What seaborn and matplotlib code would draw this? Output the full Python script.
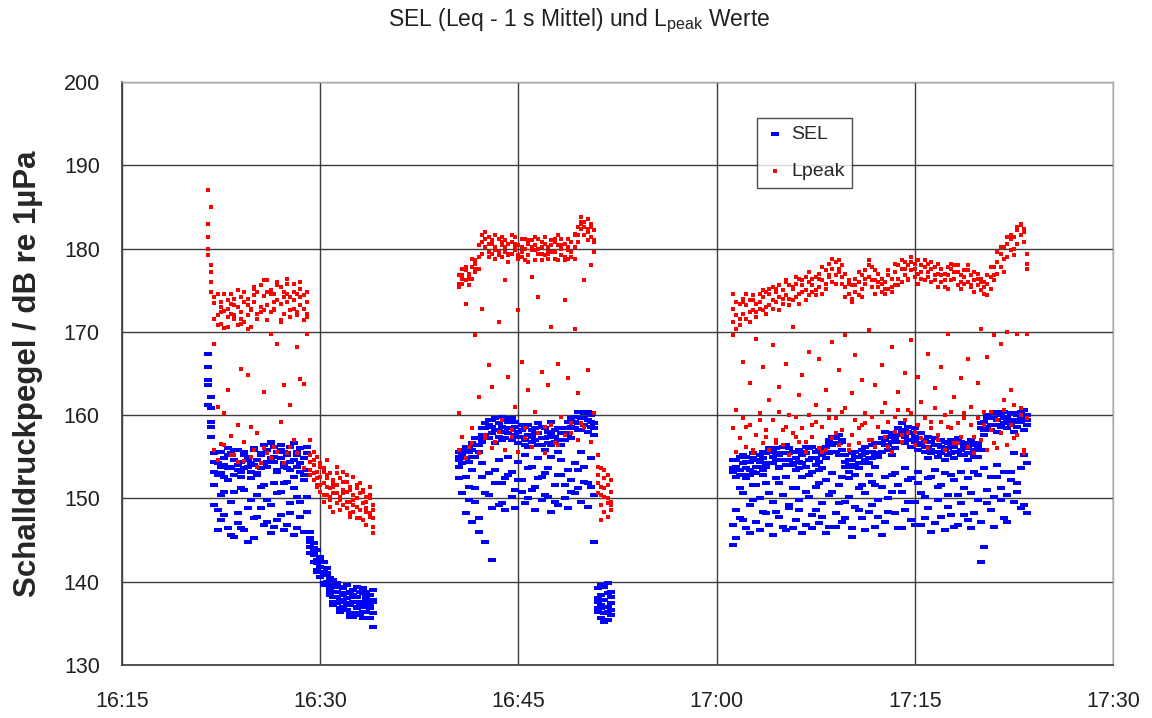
import numpy as np
import pandas as pd
import matplotlib
matplotlib.use("Agg")
import matplotlib.pyplot as plt
import seaborn as sns

# ---------------- data ----------------
# time = minutes after 16:15, samples every 15 s inside each recording segment
x_ticks = [0, 15, 30, 45, 60, 75]
x_tick_labels = ["16:15", "16:30", "16:45", "17:00", "17:15", "17:30"]
y_ticks = [130, 140, 150, 160, 170, 180, 190, 200]
seg_start = [6.5, 25.5, 46.25]   # 16:21:30, 16:40:30, 17:01:15
sample_step = 0.25

# ---- segment 1 ----
seg1_lp_a = [187, 185, 173.5, 172, 171, 172.5, 173.8, 172.2, 171.5, 173, 172.4, 171.2, 174, 172.8, 173.6, 172.2,
             175.6, 174.3, 173.2, 175, 174.6, 176, 173.4, 174.8, 175.8, 172.6, 173.8, 174.6, 175.2, 172.8, 173.6,
             155.2, 154, 153.2, 152.6, 151.8, 152.8, 151.2, 150.6, 151.6, 150.2, 149.2, 150.8, 149.6, 150.4, 149,
             150.6, 149.4, 148.8, 150, 149.2]
seg1_lp_b = [183, 178, 171.5, 174.5, 173, 170.5, 171.8, 174.6, 173.2, 170.8, 174.2, 173.6, 172, 170.6, 175.2, 174.8,
             173, 172.6, 176.2, 172.4, 172.8, 173.8, 175.4, 172.2, 173.6, 174.2, 175.8, 172, 173.2, 174.4, 171.8,
             153.4, 152.2, 155, 154.2, 153.6, 150.4, 153, 152.2, 149.4, 152.4, 151, 148.8, 151.4, 148.4, 151.2,
             148.6, 150.8, 150.2, 148.2, 147.6]
seg1_lp_c = [180, 176, 168.6, 161, 156.5, 160.2, 163, 157.5, 155.2, 158.8, 165.6, 154.5, 164.8, 158.6, 155.8, 157.8,
             154.2, 162.8, 155.5, 169.8, 156.2, 168.6, 159.2, 163.6, 155.4, 161.2, 157, 168.2, 164.3, 163.7, 169.8,
             157, 155.6, 151.4, 150.8, 149.6, 154.6, 149, 148.4, 153.8, 148.6, 153.2, 152, 147.8, 152.6, 147.6,
             151.8, 147.4, 146.8, 151.4, 145.8]
seg1_lp_d = [181.4, 177.2, 155.8, 154.6, 173.6, 156.4, 172.8, 155.2, 174, 154.4, 171.6, 156.8, 173.2, 155, 174.4,
             153.8, 172.4, 156, 174.8, 154.8, 173.6, 155.6, 171.4, 154.2, 174.6, 156.2, 172.8, 155.4, 174.2, 153.6,
             172.2, 154.4, 153, 152.4, 151.6, 153.2, 151.4, 150.2, 151.8, 150.6, 149.8, 152, 149.6, 151, 149.2, 150,
             148.6, 151, 149.6, 147.8, 148.6]
seg1_lp_e = [179.2, 174.8, 174.2, 170.8, 172.4, 174.6, 170.6, 173.4, 172, 175, 171, 174.8, 170.4, 172.6, 175.4,
             171.6, 173, 176.2, 171.4, 174.6, 172.6, 175.6, 171.2, 174.2, 176.4, 171.8, 174.8, 172.4, 176, 171.4,
             174.8, 152.8, 154.6, 151.6, 153.8, 150.4, 152.4, 149.8, 151.4, 153, 148.6, 150.6, 152.8, 148.2, 149.8,
             151.6, 147.6, 149.4, 148.4, 150.4, 146.6]
seg1_sel_a = [167.4, 162.2, 155.4, 154.2, 155.6, 154, 155.2, 153.8, 154.6, 155.8, 154.4, 153.6, 155, 154.2, 156, 154.6,
              155.4, 156.4, 155.8, 156.6, 154.4, 155.6, 154.8, 153.8, 155.2, 156.2, 154.6, 155.6, 156, 154.8, 155.4,
              145.2, 144.6, 143.8, 143, 142.4, 141.6, 140.4, 139.6, 138.8, 139.4, 138.4, 138, 138.8, 137.6, 138.2,
              137.4, 138.6, 137.8, 138.4, 137.6]
seg1_sel_b = [165.8, 160.8, 153.2, 152.8, 153.8, 152.6, 153.6, 155.4, 152.8, 153.4, 152.6, 155.2, 153.8, 152.4, 154,
              152.8, 153.6, 154.2, 153.8, 154.8, 156.2, 153.4, 156.4, 155.6, 153.6, 154.4, 152.6, 153.8, 154.2, 152.8,
              153.4, 144.2, 143.2, 142.6, 141.8, 140.8, 139.8, 138.8, 138.2, 137.4, 137.8, 137, 136.6, 137.2, 139,
              136.8, 138.8, 137, 136.4, 137.2, 139]
seg1_sel_c = [163.6, 157.4, 149.2, 148.6, 147.4, 150.8, 146.4, 149.6, 145.4, 148.2, 151.2, 146.2, 144.8, 149.8, 147.6,
              150.4, 148.8, 151.6, 147.2, 149.2, 146.6, 150.6, 148, 151.8, 146.8, 149.4, 145.6, 150.2, 147.8, 146,
              150.2, 143.4, 142.4, 141.4, 140.6, 139.6, 140.8, 139.4, 140.2, 139.8, 136.6, 139.2, 139.6, 136.2, 135.8,
              139.4, 136, 139.2, 138.8, 135.6, 134.6]
seg1_sel_d = [161.2, 159.2, 151.6, 146.2, 150.4, 148, 152.2, 145.6, 150.8, 147, 146.4, 151, 148.8, 152.4, 145.2,
              147.8, 151.4, 146.8, 149.8, 145.8, 151.8, 147.4, 150.8, 146.2, 152, 148.2, 151.2, 146.4, 149.6, 152.2,
              148.4, 144.8, 143.6, 142.2, 142.4, 141.2, 140, 138.4, 137.6, 138.2, 136.8, 138.6, 137.4, 136.2, 138.2,
              137, 137.6, 136.4, 138.2, 137, 136.2]
seg1_sel_e = [164.2, 158.6, 154.4, 155.6, 153, 154.8, 156, 153.6, 155.8, 154, 153.2, 155.6, 154.6, 153.2, 155.8,
              153, 155.2, 156.4, 154.4, 156.8, 155, 153.2, 155.8, 154.2, 155.4, 153.4, 156.6, 155.2, 153.2, 154.8,
              156.2, 146, 144, 141.2, 142.8, 139.8, 141, 139.2, 137.2, 139.4, 136.4, 137.6, 138.6, 135.8, 138.4,
              136.2, 137.2, 135.6, 137.4, 136.8, 137.8]

# ---- segment 2 ----
seg2_lp_a = [176.8, 177.6, 176.2, 175.6, 177.8, 178.6, 179, 181.6, 182, 180.6, 179.4, 180.2, 179.6, 180.4, 181, 179.2,
             180.8, 179.8, 180.4, 179.6, 178.6, 180.6, 179.8, 180.4, 179.4, 180.8, 179.2, 180.2, 181, 179.6, 180.4,
             179.2, 180.6, 181.2, 179.6, 180.2, 182.6, 183.8, 183.2, 182.4, 181.4, 182.2, 152.8, 151.4, 150.2,
             149.4, 150.8]
seg2_lp_b = [175.4, 175.8, 177.4, 177, 176.4, 177.2, 177.6, 179.4, 180.2, 179, 181, 178.8, 181.2, 179, 179.6, 180.6,
             179.4, 181.4, 178.8, 181.2, 180, 179.2, 181, 178.6, 181.2, 179.4, 180.6, 178.8, 179.6, 180.8, 178.6,
             181.2, 179, 179.8, 180.8, 181.6, 180.8, 182.4, 181.6, 183.6, 183, 180.8, 150.6, 149.2, 152.4, 151.6,
             148.6]
seg2_lp_c = [160.2, 157.4, 173.4, 156.2, 158.4, 169.6, 162.2, 172.8, 157.6, 166, 163.4, 156.8, 171.2, 159.4, 176.2,
             164.6, 158.2, 161, 172.6, 166.4, 157.2, 163, 176.6, 160.4, 174.2, 165.2, 158.6, 163.6, 170.6, 156.6,
             166.2, 159.8, 173.8, 164.4, 157.8, 170.4, 162.6, 159, 176.2, 165.4, 178, 160.2, 155.2, 153.6, 148.4,
             147.8, 152.2]
seg2_lp_d = [155.8, 176.4, 154.8, 176.8, 156.6, 178.2, 155.4, 180.8, 157.2, 181.4, 156, 179.8, 158, 180.8, 155.8,
             179.4, 157.4, 180.2, 155.6, 179, 158.4, 181, 156.2, 179.8, 157.8, 180.2, 155.4, 179.6, 158.8, 181.2,
             156.4, 180, 157.6, 178.8, 159, 181.8, 157, 183.2, 158.6, 182, 156.8, 181, 153.8, 150.4, 151.2, 152.8,
             149.6]
seg2_lp_e = [175.8, 176.8, 177.8, 176.4, 178.8, 177.6, 180.4, 180.8, 181.2, 179.6,
             180.6, 181.6, 179.2, 181.4, 180.2, 178.4, 181.6, 180.6, 179.2, 180.2,
             181.2, 178.4, 180.2, 181.4, 180, 178.6, 181.4, 179.4, 180.4, 178.8,
             181.6, 180.4, 178.6, 180.2, 179, 178.8, 181.6, 183, 182.6, 181,
             182.6, 179.6, 151.8, 147.4, 153.4, 150, 149.2]
seg2_sel_a = [155.6, 155.2, 155.8, 156.2, 155, 156.4, 157.2, 158.4, 157.6, 158.8, 159.4, 158.2, 157.4, 158.6, 159.6,
              157.8, 158.4, 159.2, 158, 157.4, 158.6, 157.6, 158.2, 157, 157.8, 158.6, 157.2, 156.6, 157.8, 158.2,
              157, 156.4, 158.4, 159.2, 158.6, 159.8, 160.4, 159.6, 160.2, 159.4, 160, 159, 139.2, 138.4, 137.8,
              138.6, 137.4]
seg2_sel_b = [154.6, 154.2, 154.8, 154.4, 156.6, 155, 155.6, 156.8, 159, 157.2, 157.8, 156.6, 159, 157, 158, 159.2,
              157, 157.6, 156.6, 158.8, 157, 156.2, 156.8, 158.4, 156.4, 157.2, 155.8, 158, 156.4, 156.8, 155.6,
              157.8, 157, 157.6, 157.2, 158.4, 159, 158.2, 158.8, 158, 158.6, 157.6, 137.6, 136.8, 136.2, 135.4,
              136]
seg2_sel_c = [152.4, 150.6, 148.2, 151.4, 147.2, 149.6, 146, 152.6, 144.8, 150.4, 142.6, 153.4, 149.2, 151.8, 148.6,
              152.8, 150.2, 148.8, 152.2, 150.8, 149.4, 153.6, 151, 148.6, 152.4, 149.8, 153, 150.2, 148.4, 151.6,
              149.2, 152.8, 150, 148.8, 152.2, 150.6, 153.4, 149.6, 152, 149, 151.4, 144.8, 136.4, 135.6, 139.4,
              137, 138.8]
seg2_sel_d = [153.8, 155.4, 152.6, 149.8, 153.4, 151.2, 147.6, 154.2, 150.6, 153, 148.8, 151.8, 154.6, 149.4, 152.4,
              155, 153.2, 151, 154.4, 152.2, 155.2, 150, 153.8, 151.4, 154.8, 152.6, 150.4, 153.6, 155, 149.6, 152.8,
              154.6, 151.6, 153.4, 150.8, 154.2, 151.2, 155.6, 153.8, 151.8, 154.8, 150.4, 138, 137.2, 135.2, 139.8,
              136.6]
seg2_sel_e = [155, 155.8, 156.2, 155.6, 155.8, 157.2, 156.4, 157.6, 158.4, 159.4,
              158.6, 159.6, 158.2, 159.8, 157.2, 158.4, 159.6, 158.6, 157.4, 158.2,
              156.4, 158.8, 157.4, 157.8, 159, 156.4, 158.4, 157.4, 159.2, 157.4,
              158.4, 157, 157.8, 158.4, 159.6, 159.2, 158.2, 160.4, 159.6, 160.4,
              159.2, 158.4, 136.8, 139.6, 137, 136.4, 138.2]

# ---- segment 3 ----
seg3_lp_a = [174.6, 172, 173.4, 172.2, 171.6, 173.8, 172.6, 173.4, 172.8, 174.2, 173, 174.6, 175.4, 173.6, 174.2, 175,
             174.4, 175.6, 173.8, 175.8, 174.6, 176.2, 175, 176, 174.8, 176.6, 175.4, 176.2, 177.4, 176.8, 177.6,
             178.4, 177.2, 176.6, 175.4, 174.6, 175.6, 174.8, 176, 175.2, 177.4, 176.6, 177.8, 176.2, 175.4, 174.8,
             176, 175.2, 176.4, 177.2, 176.4, 177.6, 176.8, 178, 177.4, 178.2, 177, 176.4, 177.8, 176.6, 177.6,
             176.2, 177, 176, 175.4, 176.8, 177.6, 176.4, 175.6, 176.8, 177.4, 176, 175.4, 176.2, 175.6, 175,
             174.6, 175.8, 176.6, 177.8, 178.4, 179.4, 178.8, 180.6, 179.8, 181.4, 182.2, 181.6, 182.4, 179.4]
seg3_lp_b = [171.2, 170.4, 171.6, 174, 173.2, 172.4, 174.4, 171.8, 174.6, 172.6, 174.8, 173.2, 173.8, 175.2, 172.6,
             173.4, 176, 174, 175.2, 174.2, 176.4, 174.8, 176.6, 174.4, 176.4, 175, 177, 174.6, 175.8, 178.2, 176,
             176.8, 178.6, 178, 177, 176.2, 174, 176.4, 174.4, 176.8, 175.8, 178, 176.2, 174.6, 177, 176.4, 174.6,
             176.8, 174.8, 175.6, 178, 176, 178.4, 176.4, 179, 176.6, 178.6, 178, 176.2, 178.2, 176, 177.8, 175.4,
             177.6, 177, 175.2, 176.2, 178, 177.2, 175.2, 175.8, 177.4, 176.8, 174.8, 177, 176.4, 176, 174.4,
             175.2, 176.2, 177, 177.8, 180.2, 179, 181.2, 180, 180.6, 183, 180.8, 177.6]
seg3_lp_c = [169.6, 160.6, 157.2, 166.4, 158.6, 163.8, 155.8, 169.2, 159.4, 165.8, 157.4, 161.8, 168.4, 156.6, 163.4,
             158.2, 166.2, 160, 170.6, 157.4, 162.4, 164.8, 156.8, 167.6, 158.8, 161.2, 166.8, 155.6, 163, 159.6,
             168.8, 157.8, 165.4, 160.4, 169.6, 156.4, 162.6, 167.2, 158.4, 164.2, 159, 170.2, 157, 163.6, 158.6,
             166, 161.4, 156.2, 168.2, 159.8, 162.8, 157.6, 165, 160.6, 169, 158, 164.6, 161.6, 156.8, 167.4, 159.2,
             163.2, 157.6, 165.8, 160, 169.8, 158.4, 162.2, 156.6, 164.4, 159.6, 166.8, 161, 157.4, 163.8, 170.4,
             158.8, 167, 160.4, 169.6, 156, 168.6, 161.8, 170, 163, 157.2, 169.8, 160, 155.4, 169.8]
seg3_lp_d = [158.4, 155.6, 157.2, 159.6, 156.2, 158.8, 155.4, 157.6, 160.2, 156.6,
             158.2, 155.8, 159.4, 157, 160.4, 156.4, 158.6, 155.2, 157.8, 159.8,
             156.8, 158.4, 155.6, 160, 157.4, 159.2, 156, 158.6, 155.8, 160.6,
             157.2, 159.6, 156.4, 158.2, 160.8, 155.8, 157.6, 159.4, 156.6, 158.8,
             160.2, 157, 159.8, 156.2, 158.6, 160.4, 157.4, 159.2, 155.6, 158,
             160.6, 156.8, 159.4, 157.8, 160.2, 156.4, 158.8, 157.2, 159.6, 156,
             158.4, 160.8, 157, 159.2, 155.8, 158.6, 160.4, 156.6, 159, 157.4,
             160.2, 156.2, 158.8, 155.4, 159.6, 157, 160.4, 155.8, 158.2, 156.6,
             159.4, 157.8, 160.6, 156.4, 158.8, 161.2, 157.6, 160.8, 155.8, 159.6]
seg3_lp_e = [172.8, 173.6, 170.8, 173.6, 174.6, 171.2, 173.8, 172.4, 173.6, 175,
             172.2, 175.2, 172.8, 174.8, 175.6, 174, 176.2, 173.2, 175.4, 176.6,
             173.4, 175.6, 173.8, 177.2, 175.6, 174.4, 176.4, 177.8, 175.2, 176.6,
             178.8, 175.8, 177.6, 175.8, 174.2, 175.8, 173.6, 175.6, 177.2, 174.2,
             176.4, 178.6, 175.4, 177.4, 176, 175.8, 175.2, 177.4, 175.4, 178.2,
             175.6, 178.6, 177.6, 176.2, 178.4, 177.6, 175.8, 177.2, 178.6, 177.2,
             178.4, 176.8, 178.2, 176.8, 176.2, 177.8, 178.2, 177.2, 178, 176,
             176.6, 178, 175.6, 177.2, 176.4, 176, 175.4, 176.8, 177.8, 176.8,
             179.6, 180.2, 177.2, 181.4, 181.6, 179.2, 182.6, 182.8, 182, 178.2]
seg3_sel_a = [154.6, 153.8, 155, 154.2, 153.6, 154.4, 153.2, 154.6, 153.8, 154.8, 155.4, 154.2, 155.8, 156, 155.2,
              156.2, 155.4, 154.6, 155.6, 154.8, 155.8, 154.2, 155.4, 156, 154.8, 155.6, 154.4, 155.2, 156.2, 157,
              156.4, 157.2, 156.6, 155.8, 155.2, 154.6, 155.4, 154, 155, 155.8, 154.6, 155.6, 156.4, 155.2, 156.6,
              157.2, 156.4, 157.4, 156.8, 157.6, 158.4, 157.6, 158.2, 157, 157.8, 158.4, 157.2, 156.4, 157, 156.2,
              156.8, 155.6, 156.4, 157, 155.8, 156.6, 155.4, 156.2, 155.6, 156.8, 155.2, 156, 155.4, 156.4, 155,
              158.4, 159.2, 158.6, 159.6, 160.2, 159.4, 160, 159, 159.8, 160.2, 159.4, 160, 159.2, 159.8, 158.8]
seg3_sel_b = [153.2, 152.6, 153.4, 152.8, 155, 152.8, 154.8, 153, 155.2, 153.4, 153.8, 155.6, 154.2, 154.6, 153.8,
              154.6, 154, 156, 154, 153.4, 154.4, 155.6, 153.8, 154.6, 153.2, 154, 155.8, 153.6, 154.8, 155.4, 157.4,
              155.6, 155.2, 157, 153.8, 153.2, 153.8, 155.6, 153.6, 154.2, 156.2, 154.2, 154.8, 153.8, 155, 155.6,
              158, 155.8, 155.2, 156, 156.8, 159, 156.6, 158.6, 156.2, 156.8, 155.8, 157.8, 155.6, 154.8, 155.4,
              157.2, 155, 155.4, 154.6, 155.2, 157, 154.8, 157.2, 155.2, 156.6, 154.6, 157, 155, 156.6, 155.8,
              157.6, 160, 158.2, 158.8, 158, 158.6, 160.4, 158.4, 158.8, 158, 158.6, 160.4, 158.2, 160]
seg3_sel_c = [144.4, 145.2, 147.6, 150.6, 146.4, 149.2, 151.6, 147.2, 150, 148.4, 151.8, 146.8, 149.6, 152.4, 147.8,
              150.4, 146.2, 148.8, 151.2, 147.4, 149.8, 152.6, 146.8, 150.2, 148, 151.4, 147, 149.4, 152.2, 146.6,
              150.8, 148.2, 151.6, 147.2, 149.6, 152.4, 146.4, 149, 151.2, 147.6, 150.6, 148.4, 152, 146.6, 149.8,
              151.4, 147.2, 150, 152.8, 148.2, 146.4, 150.8, 148.6, 152.2, 147.4, 149.6, 151.8, 146.8, 150.2, 148.8,
              152.6, 147, 149.8, 151.6, 146.2, 150.4, 148, 152.2, 146.8, 149.4, 151.2, 147.4, 150.6, 148.2, 152.8,
              142.4, 144.2, 151, 148.6, 150.2, 152.6, 149.8, 147.6, 150.4, 153.2, 149.6, 151.8, 148.8, 155.2, 148.2]
seg3_sel_d = [146.8, 148.6, 151.2, 147.4, 152.4, 145.8, 149.8, 151.6, 146.2, 152.8,
              148.2, 150.6, 145.6, 148.4, 151.8, 146.6, 152.6, 149.2, 146.4, 151.2,
              148.6, 145.8, 150.8, 152.8, 146.4, 148.6, 151.8, 147.8, 145.8, 150.4,
              153, 146.6, 149.4, 152.6, 147.6, 150.2, 145.4, 152.8, 148.6, 151.6,
              146.2, 152.8, 149.2, 151.6, 147.8, 145.6, 152.6, 148.4, 150.8, 153,
              151.6, 146.4, 153.6, 149.6, 152.4, 146.8, 153.2, 150.6, 147.6, 152.4,
              146, 153.4, 151.4, 147.8, 153, 149, 152.8, 146.6, 150.4, 153.2,
              148, 152.4, 146.4, 153.2, 149.8, 147.2, 153.6, 149.4, 152.6, 146.6,
              154, 151.2, 153.2, 147.2, 152.2, 155.4, 150.8, 153.6, 149.2, 154.2]
seg3_sel_e = [153.6, 154.6, 152.8, 155.2, 154.4, 153.4, 155.4, 153.8, 154.4, 155.6,
              154.2, 156, 155, 155.4, 153.6, 155.4, 156.4, 155.4, 154.2, 155.6,
              153.6, 155.2, 156.2, 154.6, 156.2, 154.8, 153.4, 156, 155.6, 156.6,
              155.6, 156.6, 157.6, 156.8, 154.4, 154, 154.6, 155, 154.2, 155.2,
              155.4, 154.8, 155.6, 156.6, 155.4, 156.6, 157, 156.4, 157.8, 157.2,
              157.6, 158, 157.4, 158, 157, 157.4, 156.4, 156.6, 156.2, 157.4,
              155.8, 156.4, 155.6, 156.2, 156.8, 156, 156.4, 155.6, 156.8, 155.8,
              156.2, 155.4, 156.6, 155.8, 156.2, 159, 158.2, 159.6, 158.8, 159.6,
              160.4, 158.8, 159.6, 159.4, 159, 160.2, 159.2, 159.6, 160.6, 159.4]

lpeak_segments = [[seg1_lp_a, seg1_lp_b, seg1_lp_c, seg1_lp_d, seg1_lp_e],
                  [seg2_lp_a, seg2_lp_b, seg2_lp_c, seg2_lp_d, seg2_lp_e],
                  [seg3_lp_a, seg3_lp_b, seg3_lp_c, seg3_lp_d, seg3_lp_e]]
sel_segments = [[seg1_sel_a, seg1_sel_b, seg1_sel_c, seg1_sel_d, seg1_sel_e],
                [seg2_sel_a, seg2_sel_b, seg2_sel_c, seg2_sel_d, seg2_sel_e],
                [seg3_sel_a, seg3_sel_b, seg3_sel_c, seg3_sel_d, seg3_sel_e]]


def to_frame(segments, name):
    rows = []
    for start, cols in zip(seg_start, segments):
        for col in cols:
            for i, v in enumerate(col):
                rows.append((start + i * sample_step, v, name))
    return pd.DataFrame(rows, columns=["time", "level", "series"])


df_sel = to_frame(sel_segments, "SEL")
df_lp = to_frame(lpeak_segments, "Lpeak")

# ---------------- plot ----------------
sns.set_style("white")
plt.rcParams["font.family"] = ["Liberation Sans", "DejaVu Sans"]

fig = plt.figure(figsize=(11.52, 7.18), dpi=100)
ax = fig.add_axes([122 / 1152, 1 - 665 / 718, (1113 - 122) / 1152, (665 - 82) / 718])

dash = [(-1, -0.42), (1, -0.42), (1, 0.42), (-1, 0.42), (-1, -0.42)]
sns.scatterplot(data=df_sel, x="time", y="level", marker=dash, s=36, color="#0000ff",
                linewidth=0, ax=ax, label="SEL", zorder=3)
sns.scatterplot(data=df_lp, x="time", y="level", marker="s", s=6.5, color="#ff0000",
                linewidth=0, ax=ax, label="Lpeak", zorder=4)

ax.set_xlim(0, 75)
ax.set_ylim(130, 200)
ax.set_xticks(x_ticks)
ax.set_xticklabels(x_tick_labels)
ax.set_yticks(y_ticks)
ax.grid(True, color="#3c3c3c", linewidth=1.0, zorder=1)
ax.set_axisbelow(True)

for side in ["left", "bottom"]:
    ax.spines[side].set_color("#454545")
    ax.spines[side].set_linewidth(1.3)
for side in ["top", "right"]:
    ax.spines[side].set_color("#a8a8a8")
    ax.spines[side].set_linewidth(1.0)

ax.tick_params(axis="both", direction="out", length=7, width=1.1, color="#454545",
               labelsize=15.5, labelcolor="#202020")
ax.tick_params(axis="x", length=5, pad=14)
ax.tick_params(axis="y", pad=9)

ax.set_xlabel("")
ax.set_ylabel("Schalldruckpegel / dB re 1µPa", fontsize=22.5, fontweight="bold", labelpad=15)

fig.text(0.503, 0.971, r"SEL (Leq - 1 s Mittel) und L$_\mathregular{peak}$ Werte",
         ha="center", va="center", fontsize=16.5, color="#202020")

leg = ax.legend(loc="upper left", bbox_to_anchor=((757 - 122) / 991, (665 - 118) / 583),
                frameon=True, fancybox=False, edgecolor="#202020", fontsize=14,
                handlelength=1.0, handletextpad=0.35, labelspacing=1.0, borderpad=0.4,
                markerscale=1.0, borderaxespad=0)
leg.get_frame().set_linewidth(1.0)

fig.savefig("out.png", dpi=100)
